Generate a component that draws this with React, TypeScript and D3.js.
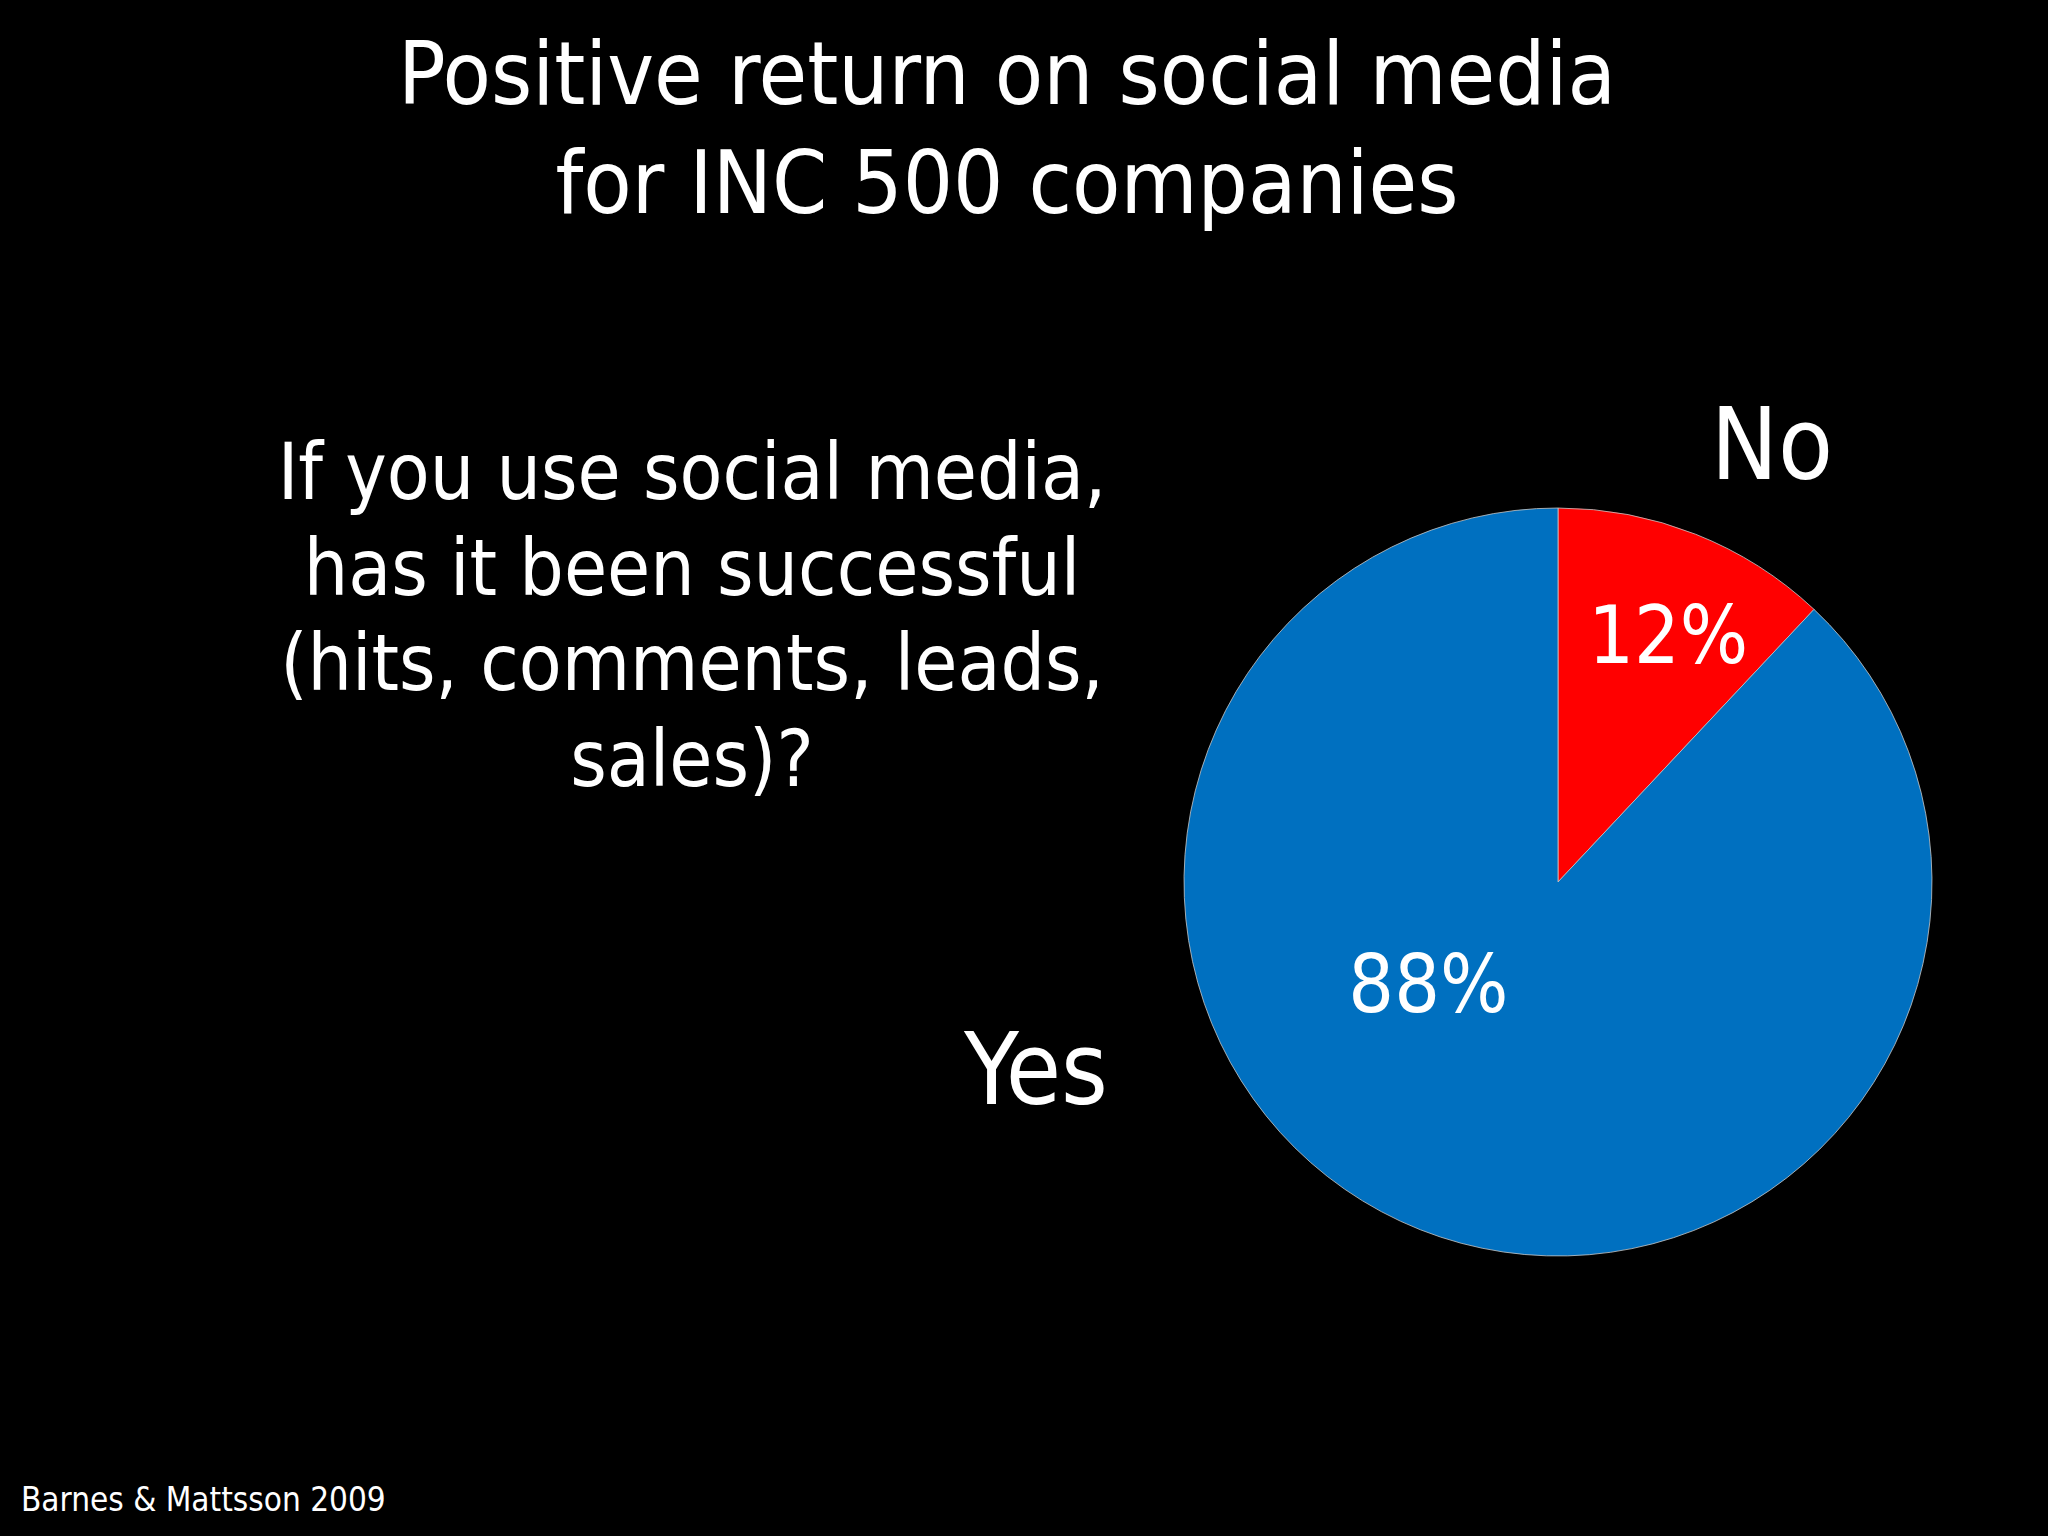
import React, { useEffect, useRef } from 'react'
import * as d3 from 'd3'

const categories = ['No', 'Yes']
const shares = [12, 88]
const sliceColors = ['#FF0000', '#0070C0']
const titleLines = ['Positive return on social media', 'for INC 500 companies']
const questionLines = [
  'If you use social media,',
  'has it been successful',
  '(hits, comments, leads,',
  'sales)?',
]
const source = 'Barnes & Mattsson 2009'

const W = 2048
const H = 1536
const FONT = '"DejaVu Sans Condensed", "DejaVu Sans", Tahoma, sans-serif'

const App = () => {
  const ref = useRef<SVGSVGElement>(null)

  useEffect(() => {
    const svg = d3.select(ref.current)
    svg.selectAll('*').remove()

    svg.append('rect').attr('width', W).attr('height', H).attr('fill', '#000')

    // title
    svg
      .append('g')
      .attr('fill', '#fff')
      .attr('font-family', FONT)
      .attr('font-size', 88)
      .attr('text-anchor', 'middle')
      .selectAll('text')
      .data(titleLines)
      .join('text')
      .attr('x', 1007)
      .attr('y', (d, i) => 104 + i * 109)
      .text(d => d)

    // question
    svg
      .append('g')
      .attr('fill', '#fff')
      .attr('font-family', FONT)
      .attr('font-size', 78)
      .attr('text-anchor', 'middle')
      .selectAll('text')
      .data(questionLines)
      .join('text')
      .attr('x', 692)
      .attr('y', (d, i) => 499 + i * 95.5)
      .text(d => d)

    // pie
    const cx = 1558
    const cy = 882
    const radius = 374

    const pie = d3
      .pie<number>()
      .sort(null)
      .value(d => d)
    const arcs = pie(shares)
    const arc = d3.arc<d3.PieArcDatum<number>>().innerRadius(0).outerRadius(radius)

    const g = svg.append('g').attr('transform', `translate(${cx}, ${cy})`)

    g.selectAll('path')
      .data(arcs)
      .join('path')
      .attr('d', arc)
      .attr('fill', (d, i) => sliceColors[i])
      .attr('stroke', '#c8c8c8')
      .attr('stroke-width', 0.8)

    // percentage labels (placed like the original slide, not at centroids)
    const labelAngle = [24, 232] // degrees clockwise from 12 o'clock
    const labelRadius = [0.725, 0.44]
    const pctSize = 80
    g.selectAll('text.pct')
      .data(arcs)
      .join('text')
      .attr('class', 'pct')
      .attr('fill', '#fff')
      .attr('font-family', FONT)
      .attr('font-size', pctSize)
      .attr('text-anchor', 'middle')
      .attr('x', (d, i) => Math.sin((labelAngle[i] * Math.PI) / 180) * labelRadius[i] * radius)
      .attr(
        'y',
        (d, i) => -Math.cos((labelAngle[i] * Math.PI) / 180) * labelRadius[i] * radius + pctSize * 0.36,
      )
      .text(d => `${d.data}%`)

    // category labels
    svg
      .append('text')
      .attr('fill', '#fff')
      .attr('font-family', FONT)
      .attr('font-size', 100)
      .attr('text-anchor', 'middle')
      .attr('x', 1772)
      .attr('y', 479)
      .text(categories[0])

    svg
      .append('text')
      .attr('fill', '#fff')
      .attr('font-family', FONT)
      .attr('font-size', 100)
      .attr('text-anchor', 'end')
      .attr('x', 1108)
      .attr('y', 1104)
      .text(categories[1])

    // source
    svg
      .append('text')
      .attr('fill', '#fff')
      .attr('font-family', FONT)
      .attr('font-size', 33)
      .attr('x', 21)
      .attr('y', 1511)
      .text(source)
  }, [])

  return (
    <svg
      ref={ref}
      width={W}
      height={H}
      style={{ position: 'absolute', left: 0, top: 0, display: 'block' }}
    />
  )
}

export default App
